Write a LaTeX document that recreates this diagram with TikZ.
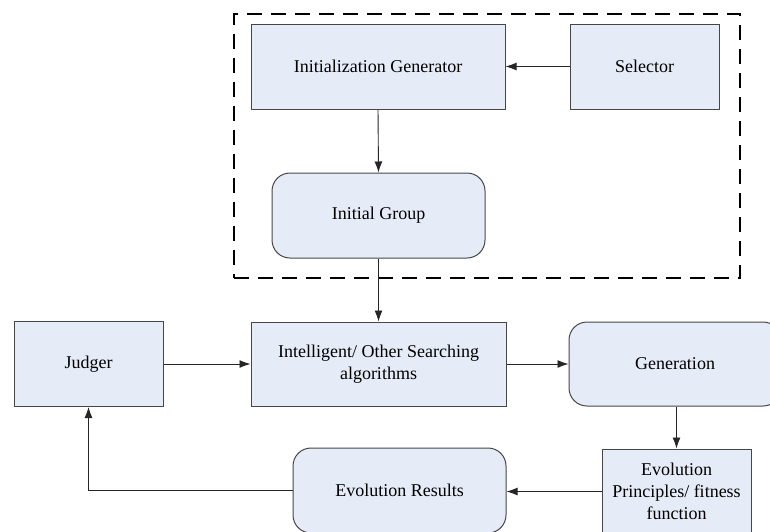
\documentclass[tikz,border=0pt]{standalone}
\usepackage{fontspec}
\setmainfont{Liberation Serif}
\newfontfamily\labelfont{Liberation Serif}
\usetikzlibrary{arrows.meta}
\definecolor{boxfill}{RGB}{230,236,247}
\definecolor{boxline}{RGB}{70,70,70}
\begin{document}
\begin{tikzpicture}[x=1pt,y=-1pt,
  font=\labelfont\fontsize{18}{22}\selectfont,
  block/.style={draw=boxline, line width=1pt, fill=boxfill, inner sep=0pt, align=center},
  softblock/.style={block, rounded corners=18pt},
  link/.style={draw=black!85, line width=0.9pt, -{Latex[length=11pt,width=8pt]}},
  group/.style={draw=black, line width=1.8pt, dash pattern=on 15pt off 9pt, inner sep=0pt}]
\useasboundingbox (0,0) rectangle (770,531);
\clip (0,0) rectangle (770,531);

% dashed frame around the initialisation stage
\node[group, minimum width=506pt, minimum height=264pt] (frame) at (487,146) {};

% initialisation stage
\node[block, minimum width=254pt, minimum height=85pt] (initgen) at (378,66.5) {Initialization Generator};
\node[block, minimum width=149pt, minimum height=85pt] (selector) at (644.5,66.5) {Selector};
\node[softblock, minimum width=213pt, minimum height=85pt] (initgroup) at (378.5,215.5) {Initial Group};

% search loop
\node[block, minimum width=149pt, minimum height=85pt] (judger) at (88.5,364) {Judger};
\node[block, minimum width=255pt, minimum height=84pt] (search) at (378.5,364) {Intelligent/ Other Searching\\algorithms};
\node[softblock, minimum width=212pt, minimum height=84pt] (generation) at (675,364) {Generation};
\node[block, minimum width=149pt, minimum height=85pt] (fitness) at (676.5,491.5) {Evolution\\Principles/ fitness\\function};
\node[softblock, minimum width=213pt, minimum height=85pt] (results) at (399.5,490.5) {Evolution Results};

% connectors
\draw[link] (selector.west) -- (initgen.east);
\draw[link] (initgen.south) -- (initgroup.north);
\draw[link] (initgroup.south) -- (search.north);
\draw[link] (judger.east) -- (search.west);
\draw[link] (search.east) -- (generation.west);
\draw[link] (generation.south -| fitness.north) -- (fitness.north);
\draw[link] (fitness.west) -- (fitness.west -| results.east);
\draw[link] (results.west) -| (judger.south);
\end{tikzpicture}
\end{document}
